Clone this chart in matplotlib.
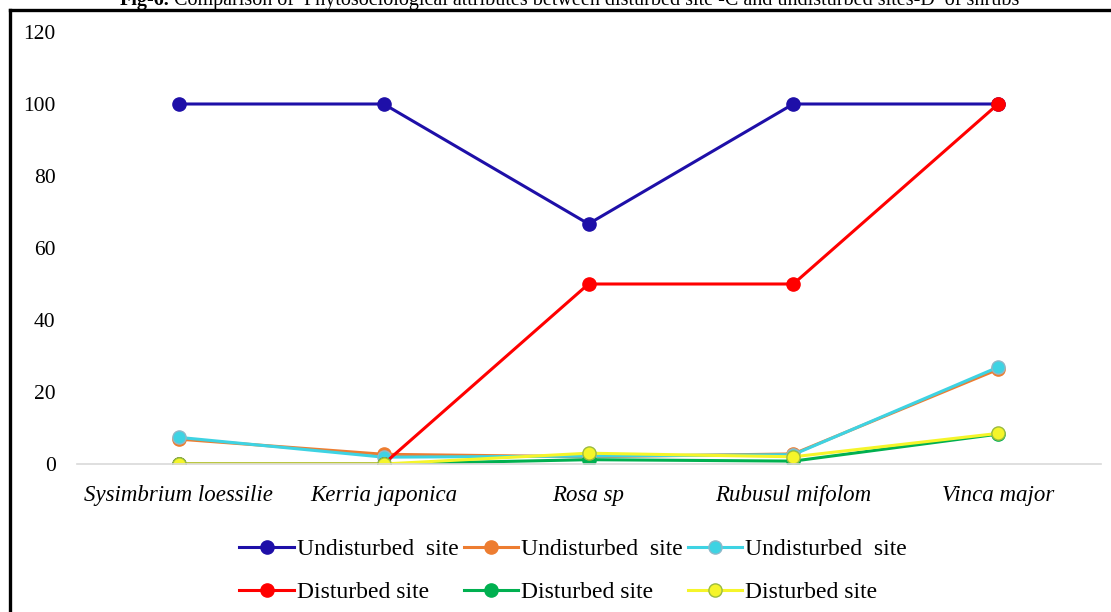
import matplotlib
matplotlib.use("Agg")
import matplotlib.pyplot as plt
from matplotlib.lines import Line2D

categories = ["Sysimbrium loessilie", "Kerria japonica", "Rosa sp", "Rubusul mifolom", "Vinca major"]

undisturbed_a = [100, 100, 66.7, 100, 100]
undisturbed_b = [6.9, 2.7, 2.0, 2.8, 26.3]
undisturbed_c = [7.4, 1.9, 2.2, 2.6, 26.9]
disturbed_a = [0, 0, 50, 50, 100]
disturbed_b = [0, 0, 1.2, 0.8, 8.3]
disturbed_c = [0, 0, 3.0, 2.0, 8.5]

series = [
    ("Undisturbed  site", undisturbed_a, "#1E0FA8", "#1E0FA8"),
    ("Undisturbed  site", undisturbed_b, "#ED7D31", "#ED7D31"),
    ("Undisturbed  site", undisturbed_c, "#3ED3E3", "#8FB8C8"),
    ("Disturbed site", disturbed_a, "#FF0000", "#FF0000"),
    ("Disturbed site", disturbed_b, "#00B050", "#00B050"),
    ("Disturbed site", disturbed_c, "#F5F52A", "#9BBB40"),
]

serif = ["Liberation Serif", "DejaVu Serif"]
W, H = 1111, 612

fig = plt.figure(figsize=(W / 100, H / 100), dpi=100)
ax = fig.add_axes([76.5 / W, (H - 464) / H, 1024 / W, 432 / H])

x = list(range(len(categories)))
handles = []
for label, vals, color, edge in series:
    h, = ax.plot(x, vals, color=color, lw=2.2, marker="o", markersize=9.5,
                 markerfacecolor=color, markeredgecolor=edge, markeredgewidth=1.0,
                 label=label)
    handles.append(h)

ax.set_xlim(-0.5, len(categories) - 0.5)
ax.set_ylim(0, 120)
ax.set_yticks(range(0, 121, 20))
ax.set_xticks(x)
ax.set_xticklabels(categories, fontfamily=serif, fontstyle="italic", fontsize=16.5)
for t in ax.get_yticklabels():
    t.set_fontfamily(serif)
    t.set_fontsize(15.5)
ax.tick_params(axis="both", length=0)
ax.tick_params(axis="y", pad=15)
ax.tick_params(axis="x", pad=15)
for s in ["top", "right", "left"]:
    ax.spines[s].set_visible(False)
ax.spines["bottom"].set_color("#D9D9D9")
ax.spines["bottom"].set_linewidth(1.2)
ax.set_zorder(1)

# legend fills column by column, so interleave to get row-wise order
order = [0, 3, 1, 4, 2, 5]
leg = fig.legend([handles[i] for i in order], [handles[i].get_label() for i in order],
                 loc="center", bbox_to_anchor=(573 / W, (H - 571) / H), ncol=3,
                 frameon=False, prop={"family": serif, "size": 17},
                 handlelength=2.3, handletextpad=0.12, columnspacing=0.22,
                 labelspacing=0.9, borderpad=0)

# page frame lines
fig.add_artist(Line2D([10 / W, 1.0], [1 - 10 / H, 1 - 10 / H],
                      color="black", lw=2.4, transform=fig.transFigure))
fig.add_artist(Line2D([10 / W, 10 / W], [0, 1 - 10 / H],
                      color="black", lw=2.4, transform=fig.transFigure))

# figure caption, clipped at the top edge
cap_y = 1 - 5 / H
bold = fig.text(120 / W, cap_y, "Fig-6.", ha="left", va="baseline",
                fontfamily=serif, fontsize=14.5, fontweight="bold")
fig.canvas.draw()
bb = bold.get_window_extent(renderer=fig.canvas.get_renderer())
fig.text(bb.x1 / W + 4 / W, cap_y,
         "Comparison of  Phytosociological attributes between disturbed site -C and undisturbed sites-D  of shrubs",
         ha="left", va="baseline", fontfamily=serif, fontsize=14.5)

fig.savefig("out.png", dpi=100)
